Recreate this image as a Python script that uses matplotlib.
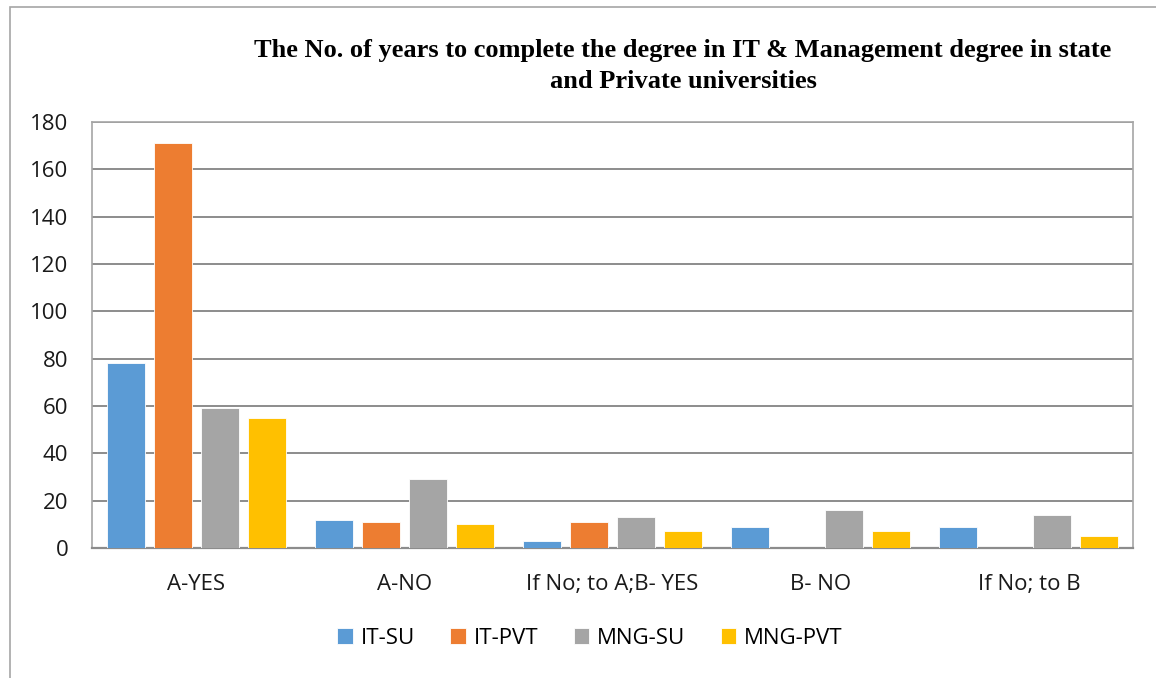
import matplotlib.pyplot as plt
import matplotlib.patches as mpatches
import numpy as np

# valores
categorias = ["A-YES", "A-NO", "If No; to A;B- YES", "B- NO", "If No; to B"]
it_su = [78, 12, 3, 9, 9]
it_pvt = [171, 11, 11, 0, 0]
mng_su = [59, 29, 13, 16, 14]
mng_pvt = [55, 10, 7, 7, 5]

series = ["IT-SU", "IT-PVT", "MNG-SU", "MNG-PVT"]
valores = [it_su, it_pvt, mng_su, mng_pvt]
cores = ["#5B9BD5", "#ED7D31", "#A5A5A5", "#FFC000"]

fig = plt.figure(figsize=(11.56, 6.78), dpi=100)
fig.patch.set_facecolor("white")

# moldura externa da area do grafico
borda = mpatches.Rectangle(
    (10 / 1156, -0.5), 2, 0.5 + 1 - 7 / 678,
    transform=fig.transFigure, fill=False,
    edgecolor="#A6A6A6", linewidth=1.2
)
fig.patches.append(borda)

ax = fig.add_axes([92 / 1156, 1 - 548 / 678, 1041 / 1156, 426 / 678])

x = np.arange(len(categorias))
largura = 38 / 208
passo = 47 / 208

for i, (nome, vals, cor) in enumerate(zip(series, valores, cores)):
    ax.bar(
        x + (i - 1.5) * passo, vals, width=largura,
        color=cor, label=nome, zorder=3,
        edgecolor="white", linewidth=0.6
    )

ax.set_xlim(-0.5, len(categorias) - 0.5)
ax.set_ylim(0, 180)
ax.set_yticks(range(0, 181, 20))
ax.set_xticks(x)
ax.set_xticklabels(categorias)

ax.grid(axis="y", color="#8C8C8C", linewidth=1.4, zorder=0)
ax.set_axisbelow(True)

for lado in ["top", "right", "left"]:
    ax.spines[lado].set_color("#A6A6A6")
    ax.spines[lado].set_linewidth(1.2)
ax.spines["bottom"].set_color("#8C8C8C")
ax.spines["bottom"].set_linewidth(1.6)

fonte = "Open Sans"
ax.tick_params(axis="y", length=0, pad=17, labelsize=16)
ax.tick_params(axis="x", length=0, pad=19, labelsize=16)
for t in ax.get_xticklabels() + ax.get_yticklabels():
    t.set_fontfamily(fonte)
    t.set_color("#1a1a1a")

# titulo
fig.text(
    683 / 1156, 1 - 66 / 678,
    "The No. of years to complete the degree in IT & Management degree in state\nand Private universities",
    ha="center", va="center", fontsize=19, fontweight="bold",
    family="Liberation Serif", linespacing=1.5
)

# legenda
leg = fig.legend(
    loc="center", bbox_to_anchor=(590 / 1156, 1 - 638 / 678),
    ncol=4, frameon=False, handlelength=0.7, handleheight=0.7,
    handletextpad=0.35, columnspacing=1.6,
    prop={"family": fonte, "size": 16}
)

fig.savefig("out.png", dpi=100)
